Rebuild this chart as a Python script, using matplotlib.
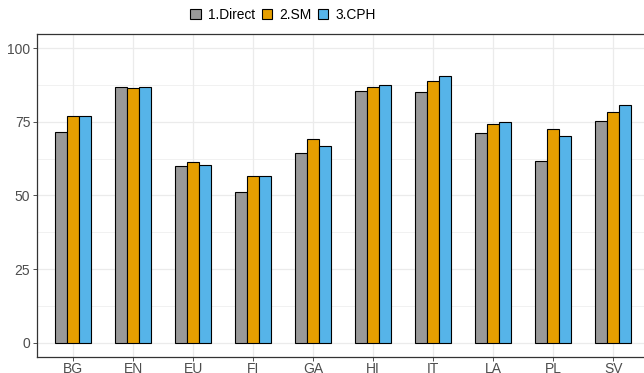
import numpy as np
import matplotlib.pyplot as plt
from matplotlib.ticker import MultipleLocator

plt.rcParams['font.family'] = ['Liberation Sans', 'DejaVu Sans']

langs = ['BG', 'EN', 'EU', 'FI', 'GA', 'HI', 'IT', 'LA', 'PL', 'SV']
methods = ['1.Direct', '2.SM', '3.CPH']
direct = [71.5, 86.8, 59.9, 51.3, 64.5, 85.4, 85.3, 71.3, 61.8, 75.4]
sm = [77.1, 86.5, 61.3, 56.7, 69.1, 86.8, 88.8, 74.2, 72.5, 78.5]
cph = [76.9, 86.8, 60.3, 56.5, 66.9, 87.4, 90.5, 75.0, 70.2, 80.8]
colors = ['#999999', '#E69F00', '#56B4E9']

W, H = 644, 373
fig = plt.figure(figsize=(W / 100, H / 100), dpi=100)
# panel runs a little past the right edge of the canvas
left, right, top, bottom = 37.3, 649.3, 33.5, 357.4
ax = fig.add_axes([left / W, 1 - bottom / H, (right - left) / W, (bottom - top) / H])

x = np.arange(1, len(langs) + 1)
bw = 0.2
for i, (vals, name) in enumerate(zip([direct, sm, cph], methods)):
    ax.bar(x + (i - 1) * bw, vals, width=bw, color=colors[i],
           edgecolor='black', linewidth=0.8, label=name, zorder=3)

ax.set_xlim(0.4, len(langs) + 0.6)
ax.set_ylim(-5, 105)
ax.set_xticks(x)
ax.set_xticklabels(langs)
ax.yaxis.set_major_locator(MultipleLocator(25))
ax.yaxis.set_minor_locator(MultipleLocator(12.5))
ax.grid(which='major', color='#EBEBEB', linewidth=0.9, zorder=0)
ax.grid(which='minor', axis='y', color='#EBEBEB', linewidth=0.5, zorder=0)
ax.tick_params(which='minor', length=0)
ax.tick_params(which='major', length=3, width=0.6, color='#333333',
               labelcolor='#4D4D4D', labelsize=10)
ax.tick_params(axis='x', pad=0.3)
ax.tick_params(axis='y', pad=2)
for s in ax.spines.values():
    s.set_color('#333333')
    s.set_linewidth(0.9)
ax.set_axisbelow(True)

fig.legend(loc='center', bbox_to_anchor=(283 / W, 1 - 15 / H), ncol=3,
           frameon=False, fontsize=9.9, handlelength=0.75, handleheight=0.75,
           handletextpad=0.5, columnspacing=0.5, borderpad=0)

fig.savefig('out.png', dpi=100)
